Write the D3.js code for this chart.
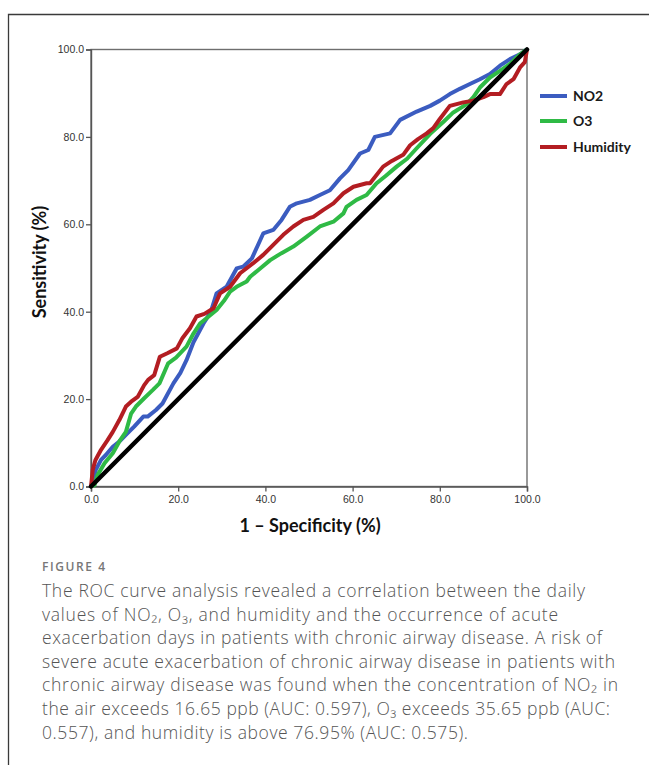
<!DOCTYPE html>
<html>
<head>
<meta charset="utf-8">
<script src="https://cdn.jsdelivr.net/npm/d3@7"></script>
<style>
  body { margin: 0; background: #fff; }
  svg { display: block; }
</style>
</head>
<body>
<script>
// ROC curves: 1 - specificity (%) and sensitivity (%)
var no2Fpr = [0,1.1,2.3,3.4,5.0,6.5,8.0,9.9,12.0,13.0,14.9,16.4,18.9,20.5,21.9,23.5,25.8,27.5,28.8,31.1,33.4,34.9,36.9,39.5,41.8,43.7,45.6,47.2,50.2,52.5,54.8,57.1,59.0,61.7,63.6,65.1,68.6,70.9,74.7,77.8,80.0,82.3,84.6,86.9,89.2,91.5,93.8,96.1,98.4,100];
var no2Tpr = [0,3.8,6.1,7.2,9.1,10.3,11.8,13.7,16.0,16.0,17.5,19.0,23.6,26.0,28.9,33.0,37.3,40.0,44.2,45.7,49.9,50.3,52.2,57.9,58.7,61.0,64.0,64.8,65.6,66.7,67.8,70.5,72.4,76.2,77.0,80.0,80.8,83.9,85.8,87.1,88.3,89.8,91.0,92.1,93.2,94.4,96.3,97.8,98.9,100];

var o3Fpr = [0,0.8,1.5,3.1,5.0,6.5,8.0,9.2,10.3,12.2,14.2,15.7,17.7,19.5,21.9,23.5,25.0,26.5,28.8,30.5,31.9,33.4,35.7,36.5,38.8,41.1,43.7,46.4,49.5,52.5,55.6,57.9,58.6,60.9,63.2,65.5,67.5,70.1,72.5,74.7,77.8,80.8,83.1,86.2,87.7,89.2,91.5,93.8,96.1,98.4,100];
var o3Tpr = [0,0.3,2.6,5.3,7.6,10.3,12.5,16.7,18.3,20.2,22.1,23.6,28.2,29.5,32.0,35.0,37.3,38.5,40.4,42.5,44.6,45.7,46.9,48.0,49.9,51.8,53.4,54.9,57.2,59.5,60.6,62.5,64.0,65.6,66.7,69.4,71.0,73.2,75.0,77.4,80.7,83.4,85.6,87.5,89.1,91.3,93.6,95.1,96.7,98.9,100];

var humFpr = [0,0.4,1.0,2.3,3.8,5.0,6.5,8.0,9.2,10.7,12.2,13.1,14.5,15.8,17.5,19.7,21.0,22.7,24.2,26.0,28.1,29.6,31.9,34.2,37.2,39.5,41.8,44.1,46.4,48.7,51.0,53.3,55.6,57.9,60.2,63.2,64.0,67.0,69.0,71.6,73.2,75.0,77.0,78.5,80.0,82.3,85.4,87.7,90.0,91.5,93.8,95.3,96.9,98.4,99.5,100];
var humTpr = [0,3.8,6.0,8.4,10.6,12.5,15.2,18.3,19.4,20.5,23.2,24.4,25.5,29.7,30.5,31.6,34.0,36.2,38.9,39.5,40.8,44.2,45.7,48.8,51.1,53.0,55.3,57.6,59.5,61.0,61.7,63.3,64.8,67.1,68.6,69.4,69.4,73.2,74.5,75.9,78.1,79.5,80.8,82.0,84.1,87.1,87.9,88.3,89.1,89.8,89.8,92.1,93.2,95.9,97.1,100];

var seriesNames = ["NO2", "O3", "Humidity"];
var seriesColors = ["#3b5cc0", "#2fba45", "#b31d22"];
var ticks = [0, 20, 40, 60, 80, 100];

var width = 649,
    height = 765;

var svg = d3.select("body").append("svg")
    .attr("width", width)
    .attr("height", height);

// page frame (left and top rule)
svg.append("path")
    .attr("d", "M8.5,765 V14.5 H649")
    .attr("fill", "none")
    .attr("stroke", "#3a3a3a")
    .attr("stroke-width", 1.3);

var x = d3.scaleLinear().domain([0, 100]).range([91, 527]);
var y = d3.scaleLinear().domain([0, 100]).range([486.5, 49.5]);

var fmt = d3.format(".1f");

// plot box
svg.append("rect")
    .attr("x", x(0)).attr("y", y(100))
    .attr("width", x(100) - x(0)).attr("height", y(0) - y(100))
    .attr("fill", "none")
    .attr("stroke", "#6e6e6e")
    .attr("stroke-width", 1.4);

var xAxis = svg.append("g")
    .attr("transform", "translate(0," + y(0) + ")")
    .call(d3.axisBottom(x).tickValues(ticks).tickFormat(fmt).tickSize(5).tickPadding(4));

var yAxis = svg.append("g")
    .attr("transform", "translate(" + x(0) + ",0)")
    .call(d3.axisLeft(y).tickValues(ticks).tickFormat(fmt).tickSize(5).tickPadding(2));

[xAxis, yAxis].forEach(function(g) {
  g.select(".domain").attr("stroke", "#555").attr("stroke-width", 1.4);
  g.selectAll(".tick line").attr("stroke", "#555").attr("stroke-width", 1.3);
  g.selectAll(".tick text")
    .attr("fill", "#333")
    .style("font-family", "'Liberation Sans', Arial, sans-serif")
    .style("font-size", "10.5px");
});

// curves
var curves = [
  {fpr: no2Fpr, tpr: no2Tpr},
  {fpr: o3Fpr, tpr: o3Tpr},
  {fpr: humFpr, tpr: humTpr}
];

var line = d3.line()
    .x(function(d) { return x(d[0]); })
    .y(function(d) { return y(d[1]); });

curves.forEach(function(c, i) {
  svg.append("path")
      .datum(d3.zip(c.fpr, c.tpr))
      .attr("d", line)
      .attr("fill", "none")
      .attr("stroke", seriesColors[i])
      .attr("stroke-width", 4)
      .attr("stroke-linejoin", "round");
});

// reference diagonal
svg.append("path")
    .datum([[0, 0], [100, 100]])
    .attr("d", line)
    .attr("stroke", "#000")
    .attr("stroke-width", 4.5)
    .attr("stroke-linecap", "round");

// axis titles
svg.append("text")
    .attr("x", 310).attr("y", 532)
    .attr("text-anchor", "middle")
    .style("font-family", "Lato, sans-serif")
    .style("font-weight", "bold")
    .style("font-size", "18px")
    .attr("fill", "#111")
    .text("1 \u2013 Specificity (%)");

svg.append("text")
    .attr("transform", "translate(46,262) rotate(-90)")
    .attr("text-anchor", "middle")
    .style("font-family", "Lato, sans-serif")
    .style("font-weight", "bold")
    .style("font-size", "18px")
    .attr("fill", "#111")
    .text("Sensitivity (%)");

// legend
var legend = svg.selectAll(".legend")
    .data(seriesNames)
  .enter().append("g")
    .attr("transform", function(d, i) { return "translate(540," + [96, 121, 147][i] + ")"; });

legend.append("line")
    .attr("x1", 0).attr("x2", 27)
    .attr("stroke", function(d, i) { return seriesColors[i]; })
    .attr("stroke-width", 4);

legend.append("text")
    .attr("x", 33).attr("dy", "0.35em")
    .style("font-family", "Lato, sans-serif")
    .style("font-weight", "bold")
    .style("font-size", "14px")
    .attr("fill", "#1a1a1a")
    .text(function(d) { return d; });

// caption
svg.append("text")
    .attr("x", 42).attr("y", 571)
    .attr("textLength", 63)
    .attr("lengthAdjust", "spacing")
    .style("font-family", "Open Sans, sans-serif")
    .style("font-weight", 600)
    .style("font-size", "12px")
    .attr("fill", "#777")
    .text("FIGURE 4");

var captionLines = [
  "The ROC curve analysis revealed a correlation between the daily",
  "values of NO\u2082, O\u2083, and humidity and the occurrence of acute",
  "exacerbation days in patients with chronic airway disease. A risk of",
  "severe acute exacerbation of chronic airway disease in patients with",
  "chronic airway disease was found when the concentration of NO\u2082 in",
  "the air exceeds 16.65 ppb (AUC: 0.597), O\u2083 exceeds 35.65 ppb (AUC:",
  "0.557), and humidity is above 76.95% (AUC: 0.575)."
];
var captionWidths = [543, 516, 560, 573, 576, 568, 426];

svg.selectAll(".cap")
    .data(captionLines)
  .enter().append("text")
    .attr("class", "cap")
    .attr("x", 42)
    .attr("y", function(d, i) { return 597 + i * 23.6; })
    .attr("textLength", function(d, i) { return captionWidths[i]; })
    .attr("lengthAdjust", "spacing")
    .style("font-family", "Open Sans, sans-serif")
    .style("font-weight", 300)
    .style("font-size", "17.5px")
    .attr("fill", "#555")
    .text(function(d) { return d; });
</script>
</body>
</html>
